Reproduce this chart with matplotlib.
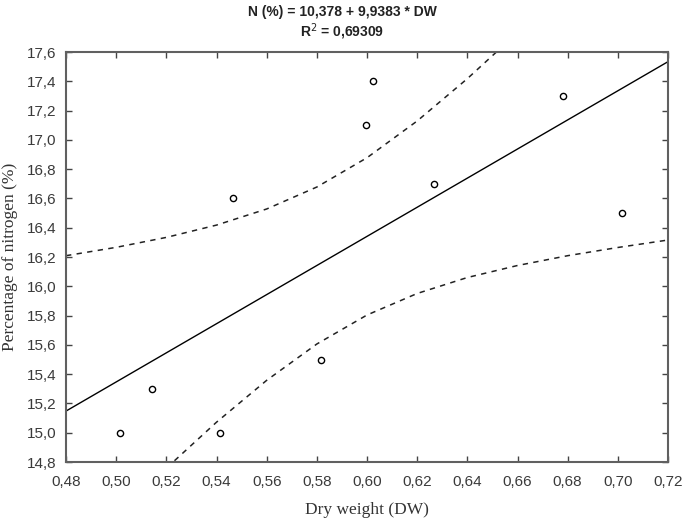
import numpy as np
import matplotlib
matplotlib.use("Agg")
from matplotlib import pyplot as plt
from matplotlib.ticker import FuncFormatter, MultipleLocator

# punti misurati (peso secco vs percentuale di azoto)
dry_weight = [0.5015, 0.5143, 0.5414, 0.5466, 0.5817, 0.5997, 0.6025, 0.6268, 0.678, 0.7018]
nitrogen = [15.0, 15.3, 15.0, 16.6, 15.5, 17.1, 17.4, 16.7, 17.3, 16.5]

# retta di regressione (estremi)
fit_x = [0.48, 0.72]
fit_y = [15.148, 17.534]

# bande di confidenza (tratteggiate)
band_x = [0.48, 0.50, 0.52, 0.54, 0.56, 0.58, 0.60, 0.62, 0.64, 0.66, 0.68, 0.70, 0.72]
band_upper = [16.209, 16.266, 16.334, 16.418, 16.528, 16.678, 16.878, 17.129, 17.418, 17.732, 18.063, 18.405, 18.75]
band_lower = [14.087, 14.427, 14.758, 15.072, 15.358, 15.606, 15.804, 15.951, 16.060, 16.142, 16.209, 16.265, 16.316]

title_lines = ["N (%) = 10,378 + 9,9383 * DW", "R$^2$ = 0,69309"]

fig = plt.figure(figsize=(6.85, 5.19), dpi=100)
ax = fig.add_axes([0.0964, 0.1098, 0.8788, 0.79])

ax.plot(fit_x, fit_y, color="black", linewidth=1.0)
ax.plot(band_x, band_upper, color="#222222", linewidth=1.1, linestyle=(0, (3.5, 3.5)))
ax.plot(band_x, band_lower, color="#222222", linewidth=1.1, linestyle=(0, (3.5, 3.5)))
ax.scatter(dry_weight, nitrogen, s=20, facecolors="white", edgecolors="black", linewidths=1.0, zorder=3)

ax.set_xlim(0.48, 0.72)
ax.set_ylim(14.8, 17.6)
ax.xaxis.set_major_locator(MultipleLocator(0.02))
ax.yaxis.set_major_locator(MultipleLocator(0.2))
ax.xaxis.set_major_formatter(FuncFormatter(lambda v, p: ("%.2f" % v).replace(".", ",")))
ax.yaxis.set_major_formatter(FuncFormatter(lambda v, p: ("%.1f" % v).replace(".", ",")))

ax.tick_params(direction="in", length=4, width=1, top=True, right=True,
               labelsize=11, labelcolor="#3a3a3a", color="#444444")
ax.tick_params(axis="x", pad=9)
ax.tick_params(axis="y", pad=7)
for lab in ax.get_xticklabels() + ax.get_yticklabels():
    lab.set_family(["Liberation Sans", "DejaVu Sans"])
for s in ax.spines.values():
    s.set_color("#606060")
    s.set_linewidth(1.5)

ax.set_xlabel("Dry weight (DW)", family=["Liberation Serif", "DejaVu Serif"], fontsize=12.5, color="#333333", labelpad=10)
ax.set_ylabel("Percentage of nitrogen (%)", family=["Liberation Serif", "DejaVu Serif"], fontsize=12.5, color="#333333", labelpad=6)

fig.text(0.5, 0.977, title_lines[0], ha="center", va="center", fontsize=10, fontweight="bold",
         family=["Liberation Sans Narrow", "Liberation Sans", "DejaVu Sans"], color="#222222")
fig.text(0.5, 0.938, title_lines[1], ha="center", va="center", fontsize=10, fontweight="bold",
         family=["Liberation Sans Narrow", "Liberation Sans", "DejaVu Sans"], color="#222222")

fig.savefig("out.png", dpi=100)
